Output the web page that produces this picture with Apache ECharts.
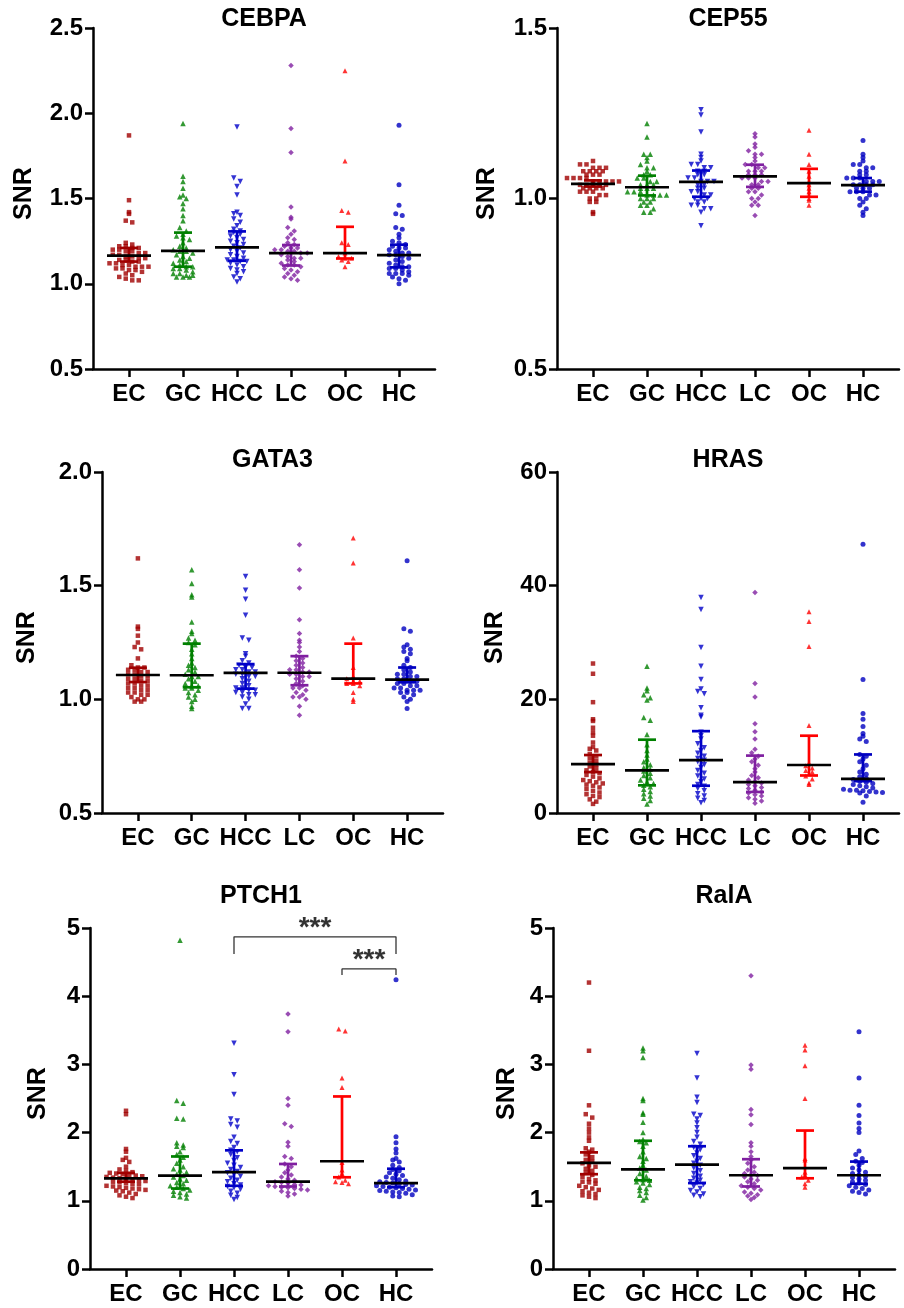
<!DOCTYPE html>
<html>
<head>
<meta charset="utf-8">
<script src="https://cdn.jsdelivr.net/npm/echarts@6/dist/echarts.min.js"></script>
<style>
html,body{margin:0;padding:0;background:#fff;}
#chart{width:904px;height:1308px;}
</style>
</head>
<body>
<div id="chart"></div>
<script>
// ---------------- DATA ----------------
const categories = ['EC', 'GC', 'HCC', 'LC', 'OC', 'HC'];
const titles = ['CEBPA', 'CEP55', 'GATA3', 'HRAS', 'PTCH1', 'RalA'];
const yMin = [0.5, 0.5, 0.5, 0, 0, 0];
const yMax = [2.5, 1.5, 2.0, 60, 5, 5];
const yStep = [0.5, 0.5, 0.5, 20, 1, 1];
const yDecimals = [1, 1, 1, 0, 0, 0];

const cebpaValues = [
  [1.87,1.49,1.42,1.41,1.37,1.36,1.24,1.23,1.22,1.22,1.21,1.21,1.20,1.20,1.19,1.19,1.18,1.18,1.17,1.17,1.16,1.16,1.15,1.15,1.14,1.14,1.13,1.13,1.12,1.12,1.11,1.11,1.10,1.10,1.10,1.09,1.09,1.08,1.08,1.07,1.06,1.05,1.04,1.03,1.02,1.02],
  [1.94,1.63,1.60,1.56,1.52,1.51,1.50,1.47,1.44,1.40,1.37,1.33,1.31,1.29,1.28,1.27,1.26,1.24,1.22,1.21,1.20,1.19,1.19,1.18,1.17,1.16,1.15,1.14,1.13,1.12,1.11,1.10,1.10,1.09,1.09,1.08,1.07,1.06,1.06,1.05,1.05,1.04,1.04,1.04],
  [1.92,1.62,1.60,1.57,1.52,1.42,1.41,1.40,1.38,1.36,1.34,1.32,1.31,1.30,1.29,1.28,1.27,1.26,1.25,1.24,1.23,1.22,1.21,1.20,1.19,1.18,1.17,1.16,1.15,1.14,1.14,1.13,1.13,1.12,1.11,1.10,1.09,1.08,1.07,1.06,1.04,1.03,1.01],
  [2.28,1.91,1.77,1.45,1.39,1.38,1.33,1.31,1.29,1.27,1.26,1.24,1.23,1.22,1.21,1.21,1.20,1.20,1.19,1.19,1.18,1.18,1.17,1.16,1.15,1.15,1.14,1.13,1.12,1.11,1.11,1.10,1.09,1.08,1.07,1.06,1.05,1.04,1.03,1.02],
  [2.25,1.72,1.43,1.42,1.24,1.23,1.18,1.16,1.15,1.15,1.14,1.13,1.10],
  [1.93,1.58,1.46,1.41,1.40,1.33,1.32,1.29,1.27,1.25,1.24,1.23,1.22,1.21,1.21,1.20,1.19,1.18,1.18,1.17,1.17,1.16,1.15,1.14,1.13,1.12,1.11,1.10,1.10,1.09,1.09,1.08,1.07,1.06,1.06,1.06,1.05,1.04,1.03,1.02,1.00]
];
const cebpaMedian = [1.165, 1.193, 1.213, 1.18, 1.18, 1.168];
const cebpaQ1 = [1.13, 1.10, 1.135, 1.107, 1.148, 1.096];
const cebpaQ3 = [1.21, 1.30, 1.307, 1.227, 1.334, 1.229];

const cep55Values = [
  [1.11,1.10,1.10,1.09,1.09,1.09,1.08,1.08,1.08,1.08,1.07,1.07,1.07,1.06,1.06,1.06,1.06,1.05,1.05,1.05,1.05,1.05,1.04,1.04,1.04,1.04,1.04,1.03,1.03,1.03,1.03,1.02,1.02,1.02,1.01,1.01,1.00,1.00,0.99,0.99,0.96,0.955],
  [1.22,1.18,1.13,1.13,1.12,1.11,1.10,1.09,1.09,1.08,1.07,1.07,1.06,1.06,1.05,1.05,1.04,1.04,1.04,1.03,1.03,1.03,1.02,1.02,1.02,1.01,1.01,1.01,1.01,1.00,1.00,1.00,0.99,0.99,0.98,0.98,0.97,0.96,0.96],
  [1.26,1.245,1.195,1.13,1.12,1.11,1.10,1.10,1.09,1.09,1.08,1.08,1.07,1.07,1.06,1.06,1.05,1.05,1.05,1.04,1.04,1.03,1.03,1.02,1.02,1.01,1.01,1.00,1.00,1.00,0.99,0.99,0.98,0.98,0.97,0.97,0.96,0.92],
  [1.19,1.18,1.16,1.15,1.14,1.13,1.13,1.12,1.11,1.10,1.10,1.09,1.09,1.08,1.08,1.08,1.07,1.07,1.07,1.06,1.06,1.06,1.05,1.05,1.04,1.04,1.03,1.03,1.02,1.02,1.01,1.00,1.00,0.99,0.98,0.98,0.95],
  [1.20,1.13,1.10,1.08,1.065,1.05,1.04,1.03,1.02,1.00,0.995,0.98],
  [1.17,1.13,1.12,1.11,1.10,1.10,1.09,1.09,1.08,1.08,1.07,1.07,1.06,1.06,1.06,1.05,1.05,1.05,1.04,1.04,1.04,1.04,1.03,1.03,1.03,1.02,1.02,1.02,1.01,1.01,1.00,1.00,0.99,0.98,0.97,0.96,0.95]
];
const cep55Median = [1.043, 1.033, 1.049, 1.065, 1.045, 1.039];
const cep55Q1 = [1.035, 1.009, 1.005, 1.034, 1.005, 1.02];
const cep55Q3 = [1.053, 1.067, 1.082, 1.099, 1.087, 1.06];

const gata3Values = [
  [1.62,1.32,1.31,1.28,1.25,1.23,1.22,1.18,1.15,1.14,1.14,1.13,1.13,1.12,1.12,1.11,1.11,1.10,1.10,1.09,1.09,1.08,1.08,1.07,1.07,1.06,1.06,1.05,1.05,1.04,1.04,1.03,1.03,1.02,1.02,1.01,1.00,1.00,0.99,0.99],
  [1.57,1.51,1.46,1.45,1.34,1.30,1.29,1.27,1.26,1.25,1.24,1.22,1.20,1.18,1.16,1.15,1.14,1.13,1.12,1.11,1.10,1.10,1.09,1.08,1.07,1.06,1.06,1.05,1.05,1.04,1.03,1.02,1.01,1.00,0.99,0.97,0.96],
  [1.54,1.48,1.44,1.37,1.27,1.26,1.20,1.19,1.17,1.16,1.15,1.14,1.14,1.13,1.13,1.12,1.12,1.11,1.11,1.10,1.10,1.09,1.08,1.07,1.06,1.05,1.05,1.04,1.04,1.03,1.03,1.02,1.02,1.01,1.00,0.98,0.96,0.96],
  [1.68,1.57,1.49,1.35,1.29,1.26,1.25,1.23,1.21,1.19,1.18,1.17,1.16,1.15,1.14,1.13,1.13,1.12,1.12,1.11,1.11,1.10,1.10,1.09,1.08,1.07,1.06,1.05,1.05,1.04,1.03,1.02,1.01,1.01,1.00,0.97,0.93],
  [1.71,1.60,1.27,1.14,1.10,1.09,1.08,1.08,1.07,1.07,1.06,1.03,1.00,0.99],
  [1.61,1.31,1.30,1.24,1.23,1.22,1.21,1.20,1.18,1.17,1.15,1.14,1.13,1.12,1.11,1.11,1.10,1.10,1.09,1.09,1.08,1.08,1.07,1.07,1.06,1.06,1.05,1.05,1.04,1.04,1.04,1.03,1.03,1.02,1.01,1.00,0.99,0.96]
];
const gata3Median = [1.107, 1.106, 1.116, 1.117, 1.091, 1.087];
const gata3Q1 = [1.076, 1.053, 1.047, 1.062, 1.07, 1.075];
const gata3Q3 = [1.139, 1.245, 1.155, 1.19, 1.245, 1.14];

const hrasValues = [
  [26.3,24.5,19.5,16.5,16.2,15.0,14.2,13.6,12.4,11.6,11.3,11.0,10.4,10.0,9.6,9.2,8.8,8.5,8.2,7.8,7.5,7.2,7.0,6.7,6.4,6.1,5.8,5.6,5.4,5.2,5.0,4.8,4.5,4.2,3.9,3.6,3.3,3.0,2.8,2.4,2.0,1.6],
  [25.8,22.0,21.5,20.8,20.3,19.9,16.8,16.3,13.8,12.0,11.0,10.2,9.5,9.0,8.5,8.0,7.7,7.4,7.0,6.6,6.2,5.8,5.5,5.2,4.9,4.6,4.2,3.8,3.4,3.0,2.6,2.2,1.6],
  [37.9,35.8,29.1,25.8,23.5,21.8,21.4,21.0,18.5,17.2,16.9,14.2,13.6,13.0,12.2,11.5,11.0,10.5,10.0,9.6,9.3,9.0,8.5,8.0,7.5,7.0,6.5,6.0,5.5,5.0,4.7,4.3,3.9,3.4,3.0,2.6,2.2,1.8],
  [38.8,22.8,20.4,15.7,14.3,13.0,11.2,10.6,10.0,9.5,9.0,8.4,7.8,7.2,6.6,6.2,5.8,5.5,5.3,5.0,4.8,4.5,4.3,4.0,3.7,3.5,3.2,3.0,2.7,2.4,2.1,1.7],
  [35.4,33.7,29.3,15.4,8.8,8.3,7.9,7.5,7.2,6.5,6.0,5.3,5.0],
  [47.3,23.5,17.5,16.5,15.2,14.0,13.5,13.0,12.6,10.3,10.0,9.5,9.0,8.4,7.8,7.2,6.8,6.4,6.1,5.9,5.6,5.4,5.2,5.0,4.8,4.6,4.4,4.2,4.0,4.0,3.9,3.8,3.7,3.6,3.5,3.0,1.9]
];
const hrasMedian = [8.6, 7.5, 9.3, 5.45, 8.45, 6.0];
const hrasQ1 = [7.2, 4.87, 4.8, 3.7, 6.6, 5.6];
const hrasQ3 = [10.2, 12.9, 14.4, 10.1, 13.6, 10.3];

const ptch1Values = [
  [2.32,2.27,1.76,1.72,1.63,1.60,1.57,1.50,1.46,1.44,1.42,1.41,1.40,1.39,1.38,1.37,1.36,1.35,1.34,1.33,1.32,1.31,1.30,1.29,1.28,1.27,1.26,1.25,1.24,1.22,1.21,1.20,1.19,1.18,1.17,1.16,1.15,1.14,1.12,1.10,1.08,1.06,1.04],
  [4.82,2.47,2.43,2.21,2.20,1.85,1.82,1.80,1.78,1.72,1.68,1.64,1.60,1.55,1.50,1.47,1.45,1.42,1.39,1.37,1.35,1.32,1.30,1.27,1.25,1.22,1.20,1.18,1.16,1.14,1.12,1.10,1.08,1.06,1.04],
  [3.31,2.85,2.56,2.20,2.17,2.12,2.08,1.93,1.87,1.84,1.78,1.74,1.72,1.68,1.63,1.59,1.55,1.52,1.49,1.46,1.43,1.41,1.39,1.36,1.33,1.30,1.28,1.25,1.23,1.21,1.19,1.17,1.14,1.11,1.08,1.05,1.02],
  [3.74,3.48,2.50,2.40,2.13,2.09,1.86,1.80,1.65,1.62,1.54,1.50,1.45,1.41,1.38,1.35,1.32,1.30,1.28,1.27,1.26,1.24,1.23,1.22,1.21,1.20,1.19,1.18,1.17,1.16,1.14,1.12,1.10,1.07],
  [3.52,3.49,2.80,2.66,1.56,1.45,1.40,1.35,1.30,1.28,1.27,1.25],
  [4.24,1.94,1.85,1.76,1.70,1.62,1.60,1.57,1.52,1.49,1.46,1.44,1.41,1.39,1.37,1.35,1.33,1.31,1.29,1.28,1.27,1.26,1.25,1.24,1.23,1.22,1.21,1.20,1.19,1.18,1.17,1.16,1.15,1.14,1.13,1.12,1.11,1.09,1.07,1.06]
];
const ptch1Median = [1.33, 1.37, 1.42, 1.28, 1.58, 1.26];
const ptch1Q1 = [1.28, 1.18, 1.22, 1.21, 1.345, 1.20];
const ptch1Q3 = [1.41, 1.65, 1.74, 1.54, 2.53, 1.47];
// significance brackets (PTCH1): [fromGroup, toGroup, legBottom, barTop, labelY]
const ptch1Brackets = [[2, 5, 4.62, 4.87, 4.99], [4, 5, 4.31, 4.40, 4.53]];
const ptch1Stars = ['***', '***'];

const ralaValues = [
  [4.20,3.20,2.40,2.27,2.22,2.13,2.06,2.00,1.93,1.88,1.77,1.75,1.72,1.68,1.64,1.60,1.58,1.55,1.52,1.50,1.47,1.44,1.41,1.38,1.35,1.32,1.30,1.28,1.27,1.25,1.22,1.20,1.18,1.16,1.14,1.12,1.10,1.08,1.06,1.04],
  [3.24,3.20,3.10,2.50,2.47,2.29,2.27,2.15,2.00,1.90,1.87,1.85,1.80,1.72,1.65,1.62,1.58,1.52,1.48,1.45,1.40,1.36,1.33,1.31,1.30,1.28,1.26,1.24,1.20,1.18,1.15,1.12,1.08,1.05,1.01],
  [3.16,2.80,2.52,2.44,2.27,2.25,2.20,2.14,2.07,2.00,1.93,1.87,1.83,1.78,1.75,1.70,1.66,1.62,1.58,1.55,1.52,1.48,1.44,1.40,1.36,1.33,1.30,1.28,1.26,1.24,1.21,1.18,1.15,1.13,1.10,1.08,1.06],
  [4.30,2.99,2.93,2.34,2.26,2.12,1.85,1.80,1.72,1.65,1.60,1.55,1.50,1.45,1.42,1.40,1.38,1.37,1.35,1.32,1.30,1.28,1.25,1.22,1.20,1.18,1.16,1.13,1.11,1.09,1.07,1.05,1.02],
  [3.28,3.21,2.98,2.50,1.62,1.60,1.42,1.38,1.35,1.30,1.25,1.20],
  [3.48,2.80,2.40,2.25,2.14,2.06,2.00,1.73,1.68,1.62,1.58,1.56,1.52,1.48,1.45,1.42,1.40,1.38,1.36,1.34,1.32,1.30,1.28,1.26,1.24,1.22,1.20,1.18,1.16,1.14,1.12,1.10]
];
const ralaMedian = [1.555, 1.46, 1.53, 1.375, 1.48, 1.375];
const ralaQ1 = [1.39, 1.30, 1.26, 1.21, 1.33, 1.25];
const ralaQ3 = [1.71, 1.88, 1.80, 1.61, 2.03, 1.575];

// ---------------- LAYOUT & STYLE ----------------
const panels = [
  {values: cebpaValues, med: cebpaMedian, q1: cebpaQ1, q3: cebpaQ3},
  {values: cep55Values, med: cep55Median, q1: cep55Q1, q3: cep55Q3},
  {values: gata3Values, med: gata3Median, q1: gata3Q1, q3: gata3Q3},
  {values: hrasValues, med: hrasMedian, q1: hrasQ1, q3: hrasQ3},
  {values: ptch1Values, med: ptch1Median, q1: ptch1Q1, q3: ptch1Q3},
  {values: ralaValues, med: ralaMedian, q1: ralaQ1, q3: ralaQ3}
];
const grids = [
  {left: 93, top: 28, width: 342, height: 341},
  {left: 557, top: 28, width: 342, height: 341},
  {left: 102, top: 472, width: 341, height: 341},
  {left: 557, top: 472, width: 342, height: 341},
  {left: 90, top: 928, width: 342, height: 341},
  {left: 553, top: 928, width: 342, height: 341}
];
const titleY = [19, 19, 460, 460, 896, 896];
const nameGaps = [56, 57, 62, 49, 39, 33];
const xPad = 2 / 3;
const colors = ['#a00000', '#008000', '#0000c8', '#7f1fa0', '#ff0000', '#0000c0'];
const symbols = ['rect', 'triangle', 'triangle', 'diamond', 'triangle', 'circle'];
const symbolRot = [0, 0, 180, 0, 0, 0];
const symbolSizes = [4.5, 5.5, 5.5, 5.5, 5, 5];
const FONT = '"Liberation Sans", Arial, Helvetica, sans-serif';

// Deterministic beeswarm: points in similar-value rows spread symmetrically
function swarmOffsets(values, pxPerUnit, gapPx, binPx) {
  const order = values.map((v, i) => i).sort((a, b) => values[b] - values[a]);
  const bins = new Map();
  order.forEach(i => {
    const b = Math.round(values[i] * pxPerUnit / binPx);
    if (!bins.has(b)) bins.set(b, []);
    bins.get(b).push(i);
  });
  const off = new Array(values.length).fill(0);
  bins.forEach(list => {
    const n = list.length;
    list.forEach((i, k) => { off[i] = (k - (n - 1) / 2) * gapPx; });
  });
  return off;
}

const grid = [], xAxis = [], yAxis = [], series = [], graphic = [];
panels.forEach((p, pi) => {
  const g = grids[pi];
  grid.push(Object.assign({outerBoundsMode: 'none', containLabel: false}, g));
  xAxis.push({
    type: 'value', gridIndex: pi, min: -xPad, max: categories.length - 1 + xPad,
    axisLine: {onZero: false, lineStyle: {color: '#000', width: 2.5}},
    axisTick: {show: true, length: 8, lineStyle: {color: '#000', width: 2.5}, customValues: categories.map((c, i) => i)},
    axisLabel: {show: true, customValues: categories.map((c, i) => i), formatter: v => categories[Math.round(v)],
      color: '#000', fontSize: 24, fontWeight: 'bold', fontFamily: FONT, margin: 13},
    splitLine: {show: false}
  });
  yAxis.push({
    type: 'value', gridIndex: pi, min: yMin[pi], max: yMax[pi], interval: yStep[pi],
    name: 'SNR', nameLocation: 'middle', nameGap: nameGaps[pi],
    nameTextStyle: {color: '#000', fontSize: 25, fontWeight: 'bold', fontFamily: FONT, padding: [0, 0, 0, 10]},
    axisLine: {show: true, onZero: false, lineStyle: {color: '#000', width: 2.5}},
    axisTick: {show: true, length: 8, lineStyle: {color: '#000', width: 2.5}},
    axisLabel: {color: '#000', fontSize: 24, fontWeight: 'bold', fontFamily: FONT, margin: 10,
      formatter: v => v.toFixed(yDecimals[pi])},
    splitLine: {show: false}
  });
  const pxPerUnit = g.height / (yMax[pi] - yMin[pi]);
  const pxPerX = g.width / (categories.length - 1 + 2 * xPad);
  p.values.forEach((vals, ci) => {
    const off = swarmOffsets(vals, pxPerUnit, 6.5, 4.5);
    series.push({
      type: 'scatter', xAxisIndex: pi, yAxisIndex: pi, clip: false, z: 2,
      symbol: symbols[ci], symbolSize: symbolSizes[ci], symbolRotate: symbolRot[ci],
      itemStyle: {color: colors[ci]}, silent: true, animation: false,
      data: vals.map((v, k) => [ci + off[k] / pxPerX, v])
    });
  });
  series.push({
    type: 'custom', xAxisIndex: pi, yAxisIndex: pi, z: 5, animation: false, silent: true,
    data: categories.map((c, ci) => [ci, p.med[ci], p.q1[ci], p.q3[ci]]),
    renderItem: function (params, api) {
      const x = api.value(0);
      const cm = api.coord([x, api.value(1)]);
      const a = api.coord([x, api.value(2)]);
      const b = api.coord([x, api.value(3)]);
      const col = colors[params.dataIndex];
      const st = {stroke: col, lineWidth: 2.7};
      return {type: 'group', children: [
        {type: 'line', shape: {x1: a[0], y1: a[1], x2: b[0], y2: b[1]}, style: st},
        {type: 'line', shape: {x1: a[0] - 9, y1: a[1], x2: a[0] + 9, y2: a[1]}, style: st},
        {type: 'line', shape: {x1: b[0] - 9, y1: b[1], x2: b[0] + 9, y2: b[1]}, style: st},
        {type: 'line', shape: {x1: cm[0] - 22, y1: cm[1], x2: cm[0] + 22, y2: cm[1]}, style: {stroke: '#000', lineWidth: 2.7}}
      ]};
    }
  });
  graphic.push({
    type: 'text', x: g.left + g.width / 2, y: titleY[pi], silent: true,
    style: {text: titles[pi], fill: '#000', fontSize: 25, fontWeight: 'bold', fontFamily: FONT,
      align: 'center', verticalAlign: 'middle', textAlign: 'center', textVerticalAlign: 'middle'}
  });
});

// significance brackets on PTCH1 panel
ptch1Brackets.forEach((br, bi) => {
  series.push({
    type: 'line', xAxisIndex: 4, yAxisIndex: 4, clip: false, symbol: 'none', silent: true, animation: false, z: 6,
    lineStyle: {color: '#333', width: 1.3},
    data: [[br[0], br[2]], [br[0], br[3]], [br[1], br[3]], [br[1], br[2]]]
  });
  series.push({
    type: 'scatter', xAxisIndex: 4, yAxisIndex: 4, clip: false, symbolSize: 0, silent: true, animation: false, z: 6,
    label: {show: true, position: 'inside', formatter: ptch1Stars[bi], color: '#000', fontSize: 28, fontWeight: 'bold', fontFamily: FONT},
    data: [[(br[0] + br[1]) / 2, br[4]]]
  });
});

const chart = echarts.init(document.getElementById('chart'), null, {renderer: 'canvas'});
chart.setOption({backgroundColor: '#fff', animation: false, grid, xAxis, yAxis, series, graphic});
</script>
</body>
</html>
